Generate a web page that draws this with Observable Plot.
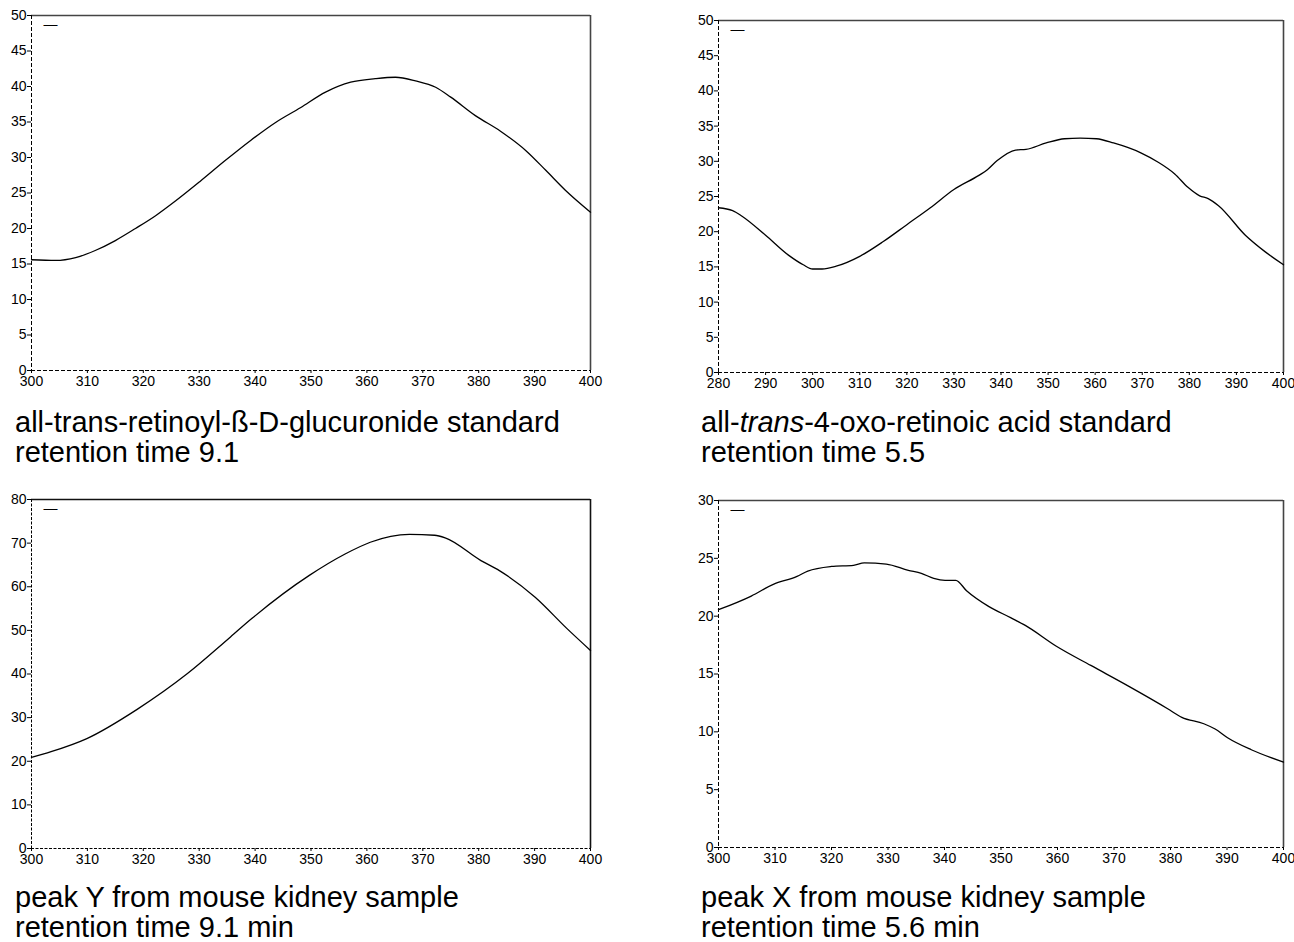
<!DOCTYPE html>
<html>
<head>
<meta charset="utf-8">
<script src="https://cdn.jsdelivr.net/npm/d3@7"></script>
<script src="https://cdn.jsdelivr.net/npm/@observablehq/plot@0.6"></script>
<style>
  html, body { margin: 0; padding: 0; background: #fff; }
  #root { position: relative; width: 1294px; height: 942px; font-family: "Liberation Sans", Arial, sans-serif; }
  .panel { position: absolute; }
  .panel svg { overflow: visible; max-width: none; }
  .cap { position: absolute; font-size: 29px; line-height: 30px; color: #000; white-space: nowrap; }
</style>
</head>
<body>
<div id="root"></div>
<script>
// ---------- Data ----------
// Panel 1: all-trans-retinoyl-ß-D-glucuronide standard
const p1Wavelength = [300, 304.3, 307.9, 311.4, 315.0, 318.6, 322.2, 325.8, 330.1, 334.7, 339.2, 343.6, 348.1, 352.6, 357.1, 361.5, 365.1, 368.7, 372.3, 375.0, 379.4, 383.9, 388.4, 392.0, 395.5, 400];
const p1Absorbance = [15.6, 15.5, 15.9, 16.9, 18.3, 20.0, 21.8, 23.9, 26.6, 29.6, 32.4, 34.9, 37.0, 39.2, 40.6, 41.1, 41.3, 40.8, 39.9, 38.5, 35.9, 33.7, 31.0, 28.2, 25.4, 22.3];
const p1XTicks = [300, 310, 320, 330, 340, 350, 360, 370, 380, 390, 400];
const p1YTicks = [0, 5, 10, 15, 20, 25, 30, 35, 40, 45, 50];

// Panel 2: all-trans-4-oxo-retinoic acid standard
const p2Wavelength = [280, 283, 285, 290, 295, 298, 300, 302, 305, 310, 315, 320, 325, 330, 335.3, 337.1, 339.2, 343.1, 345.3, 349.6, 353.5, 356.8, 360.3, 363.9, 369.7, 373.3, 376.9, 379.7, 382.2, 384.0, 386.2, 391.9, 396.2, 400];
const p2Absorbance = [23.4, 23.0, 22.2, 19.5, 16.6, 15.3, 14.7, 14.7, 15.1, 16.5, 18.6, 21.0, 23.4, 26.0, 28.0, 28.8, 30.1, 31.6, 31.7, 32.6, 33.2, 33.3, 33.2, 32.6, 31.2, 29.9, 28.2, 26.3, 25.1, 24.7, 23.7, 19.5, 17.1, 15.3];
const p2XTicks = [280, 290, 300, 310, 320, 330, 340, 350, 360, 370, 380, 390, 400];
const p2YTicks = [0, 5, 10, 15, 20, 25, 30, 35, 40, 45, 50];

// Panel 3: peak Y from mouse kidney sample
const p3Wavelength = [300, 303.5, 309.9, 318.9, 327.9, 335.6, 339.4, 349.7, 356.1, 360.6, 367.6, 372.1, 374.0, 380.4, 383.7, 390.1, 395.8, 400];
const p3Absorbance = [20.9, 22.2, 25.2, 31.9, 40.1, 48.5, 52.7, 62.6, 67.5, 70.2, 72.0, 71.8, 71.2, 66.0, 63.7, 57.6, 50.4, 45.4];
const p3XTicks = [300, 310, 320, 330, 340, 350, 360, 370, 380, 390, 400];
const p3YTicks = [0, 10, 20, 30, 40, 50, 60, 70, 80];

// Panel 4: peak X from mouse kidney sample
const p4Wavelength = [300, 305.8, 309.7, 313.9, 315.8, 320.0, 323.9, 325.8, 329.7, 333.6, 335.9, 338.1, 340.1, 342.0, 343.9, 347.8, 351.7, 354.3, 359.8, 365.9, 372.4, 379.5, 382.0, 385.9, 387.9, 390.1, 394.3, 400];
const p4Absorbance = [20.56, 21.74, 22.75, 23.44, 23.9, 24.3, 24.4, 24.6, 24.5, 23.96, 23.7, 23.27, 23.1, 23.1, 22.2, 20.85, 19.87, 19.2, 17.4, 15.74, 14.0, 12.0, 11.25, 10.7, 10.24, 9.49, 8.45, 7.38];
const p4XTicks = [300, 310, 320, 330, 340, 350, 360, 370, 380, 390, 400];
const p4YTicks = [0, 5, 10, 15, 20, 25, 30];

const captions = [
  ["all-trans-retinoyl-ß-D-glucuronide standard", "retention time 9.1"],
  ["all-<i>trans</i>-4-oxo-retinoic acid standard", "retention time 5.5"],
  ["peak Y from mouse kidney sample", "retention time 9.1 min"],
  ["peak X from mouse kidney sample", "retention time 5.6 min"]
];

// ---------- Layout ----------
const panels = [
  {xs: p1Wavelength, ys: p1Absorbance, xt: p1XTicks, yt: p1YTicks,
   left: 0, top: 0, width: 620, height: 400, mL: 31, mR: 30, mT: 15, mB: 30,
   border: "#444", dash: "4,2", capLeft: 15, capTop: 407},
  {xs: p2Wavelength, ys: p2Absorbance, xt: p2XTicks, yt: p2YTicks,
   left: 680, top: 0, width: 614, height: 400, mL: 38, mR: 11, mT: 20, mB: 28,
   border: "#444", dash: "4,2", capLeft: 701, capTop: 407},
  {xs: p3Wavelength, ys: p3Absorbance, xt: p3XTicks, yt: p3YTicks,
   left: 0, top: 480, width: 620, height: 400, mL: 31, mR: 30, mT: 19, mB: 32,
   border: "#111", dash: "3,1.5", capLeft: 15, capTop: 882},
  {xs: p4Wavelength, ys: p4Absorbance, xt: p4XTicks, yt: p4YTicks,
   left: 680, top: 480, width: 614, height: 400, mL: 38, mR: 11, mT: 20, mB: 33,
   border: "#444", dash: "4,2", capLeft: 701, capTop: 882}
];

const root = document.getElementById("root");

panels.forEach((p, i) => {
  const data = p.xs.map((x, j) => ({x, y: p.ys[j]}));
  const xMin = p.xt[0], xMax = p.xt[p.xt.length - 1];
  const yMin = p.yt[0], yMax = p.yt[p.yt.length - 1];
  const chart = Plot.plot({
    width: p.width,
    height: p.height,
    marginLeft: p.mL,
    marginRight: p.mR,
    marginTop: p.mT,
    marginBottom: p.mB,
    x: {domain: [xMin, xMax], axis: null},
    y: {domain: [yMin, yMax], axis: null},
    style: {fontFamily: "'Liberation Sans', Arial, sans-serif", fontSize: "14px", color: "#000", background: "transparent", overflow: "visible"},
    marks: [
      Plot.ruleY([yMax], {stroke: p.border, strokeWidth: 1.6}),
      Plot.ruleX([xMax], {stroke: p.border, strokeWidth: 1.6}),
      Plot.ruleY([yMin], {stroke: "#000", strokeWidth: 1, strokeDasharray: p.dash}),
      Plot.ruleX([xMin], {stroke: "#000", strokeWidth: 1, strokeDasharray: p.dash}),
      Plot.axisX({ticks: p.xt, tickSize: 3, tickPadding: 3, label: null, tickFormat: d => String(d), fontSize: 14}),
      Plot.axisY({ticks: p.yt, tickSize: 4, tickPadding: 1, label: null, tickFormat: d => String(d), fontSize: 14}),
      Plot.text(["\u2014"], {text: d => d, frameAnchor: "top-left", dx: 12, dy: 4, fontSize: 14, fill: "#000"}),
      Plot.line(data, {x: "x", y: "y", stroke: "#000", strokeWidth: 1.3, curve: "monotone-x"})
    ]
  });
  const div = document.createElement("div");
  div.className = "panel";
  div.style.left = p.left + "px";
  div.style.top = p.top + "px";
  div.style.width = p.width + "px";
  div.appendChild(chart);
  root.appendChild(div);

  const cap = document.createElement("div");
  cap.className = "cap";
  cap.style.left = p.capLeft + "px";
  cap.style.top = p.capTop + "px";
  cap.innerHTML = captions[i][0] + "<br>" + captions[i][1];
  root.appendChild(cap);
});
</script>
</body>
</html>
